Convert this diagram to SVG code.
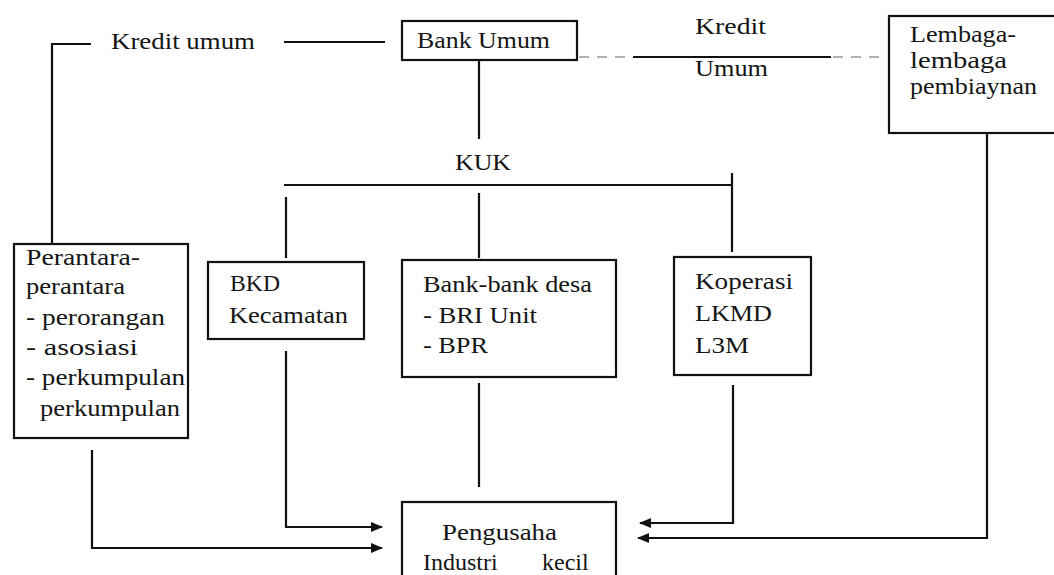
<svg xmlns="http://www.w3.org/2000/svg" width="1054" height="575" viewBox="0 0 1054 575">
<style>
text{font-family:"Liberation Serif","Times New Roman",serif;font-size:24px;fill:#151515}
.box{fill:#fff;stroke:#111;stroke-width:2.2}
.ln{fill:none;stroke:#111;stroke-width:2.2}
.dash{fill:none;stroke:#999;stroke-width:1.5;stroke-dasharray:10 8}
</style>
<defs>
<marker id="ah" markerWidth="12" markerHeight="10" refX="11" refY="5" orient="auto" markerUnits="userSpaceOnUse">
<path d="M0,0 L12,5 L0,10 z" fill="#111"/>
</marker>
</defs>
<rect width="1054" height="575" fill="#fff"/>
<g id="connectors">
<path class="ln" d="M91,44 H52 V244"/>
<path class="ln" d="M284,42 H385"/>
<path class="ln" d="M479,60 V139"/>
<path class="ln" d="M284,185 H732 M732,173 V252"/>
<path class="ln" d="M479,193 V258"/>
<path class="ln" d="M286,197 V258"/>
<path class="dash" d="M579,57 H633"/>
<path class="ln" d="M633,57 H831"/>
<path class="dash" d="M833,57 H887"/>
<path class="ln" d="M987,133 V538 H638" marker-end="url(#ah)"/>
<path class="ln" d="M733,385 V523 H640" marker-end="url(#ah)"/>
<path class="ln" d="M479,383 V487"/>
<path class="ln" d="M286,351 V527 H382" marker-end="url(#ah)"/>
<path class="ln" d="M92,450 V548 H382" marker-end="url(#ah)"/>
</g>
<g id="label-kredit-umum-left">
<text x="111" y="49" textLength="144" lengthAdjust="spacingAndGlyphs">Kredit umum</text>
</g>
<g id="label-kuk">
<text x="455" y="170" textLength="56" lengthAdjust="spacingAndGlyphs">KUK</text>
</g>
<g id="label-kredit-umum-right">
<text x="695" y="34" textLength="71" lengthAdjust="spacingAndGlyphs">Kredit</text>
<text x="695" y="76" textLength="73" lengthAdjust="spacingAndGlyphs">Umum</text>
</g>
<g id="bank-umum">
<rect class="box" x="402" y="21" width="175" height="39"/>
<text x="417" y="48" textLength="133" lengthAdjust="spacingAndGlyphs">Bank Umum</text>
</g>
<g id="lembaga">
<rect class="box" x="889" y="16" width="170" height="117"/>
<text x="910" y="42" textLength="106" lengthAdjust="spacingAndGlyphs">Lembaga-</text>
<text x="910" y="68" textLength="97" lengthAdjust="spacingAndGlyphs">lembaga</text>
<text x="910" y="94" textLength="127" lengthAdjust="spacingAndGlyphs">pembiaynan</text>
</g>
<g id="perantara">
<rect class="box" x="14" y="244" width="174" height="194"/>
<text x="26" y="265" textLength="114" lengthAdjust="spacingAndGlyphs">Perantara-</text>
<text x="26" y="294" textLength="99" lengthAdjust="spacingAndGlyphs">perantara</text>
<text x="26" y="325" textLength="139" lengthAdjust="spacingAndGlyphs">- perorangan</text>
<text x="26" y="355" textLength="112" lengthAdjust="spacingAndGlyphs">- asosiasi</text>
<text x="26" y="385" textLength="159" lengthAdjust="spacingAndGlyphs">- perkumpulan</text>
<text x="40" y="416" textLength="140" lengthAdjust="spacingAndGlyphs">perkumpulan</text>
</g>
<g id="bkd">
<rect class="box" x="208" y="262" width="156" height="77"/>
<text x="230" y="291" textLength="50" lengthAdjust="spacingAndGlyphs">BKD</text>
<text x="229" y="323" textLength="119" lengthAdjust="spacingAndGlyphs">Kecamatan</text>
</g>
<g id="bank-desa">
<rect class="box" x="402" y="260" width="214" height="117"/>
<text x="423" y="292" textLength="169" lengthAdjust="spacingAndGlyphs">Bank-bank desa</text>
<text x="423" y="323" textLength="114" lengthAdjust="spacingAndGlyphs">- BRI Unit</text>
<text x="423" y="353" textLength="65" lengthAdjust="spacingAndGlyphs">- BPR</text>
</g>
<g id="koperasi">
<rect class="box" x="674" y="257" width="137" height="118"/>
<text x="695" y="289" textLength="98" lengthAdjust="spacingAndGlyphs">Koperasi</text>
<text x="695" y="321" textLength="77" lengthAdjust="spacingAndGlyphs">LKMD</text>
<text x="695" y="353" textLength="54" lengthAdjust="spacingAndGlyphs">L3M</text>
</g>
<g id="pengusaha">
<rect class="box" x="402" y="502" width="214" height="80"/>
<text x="442" y="540" textLength="115" lengthAdjust="spacingAndGlyphs">Pengusaha</text>
<text y="570"><tspan x="423">Industri</tspan><tspan x="542">kecil</tspan></text>
</g>
</svg>
